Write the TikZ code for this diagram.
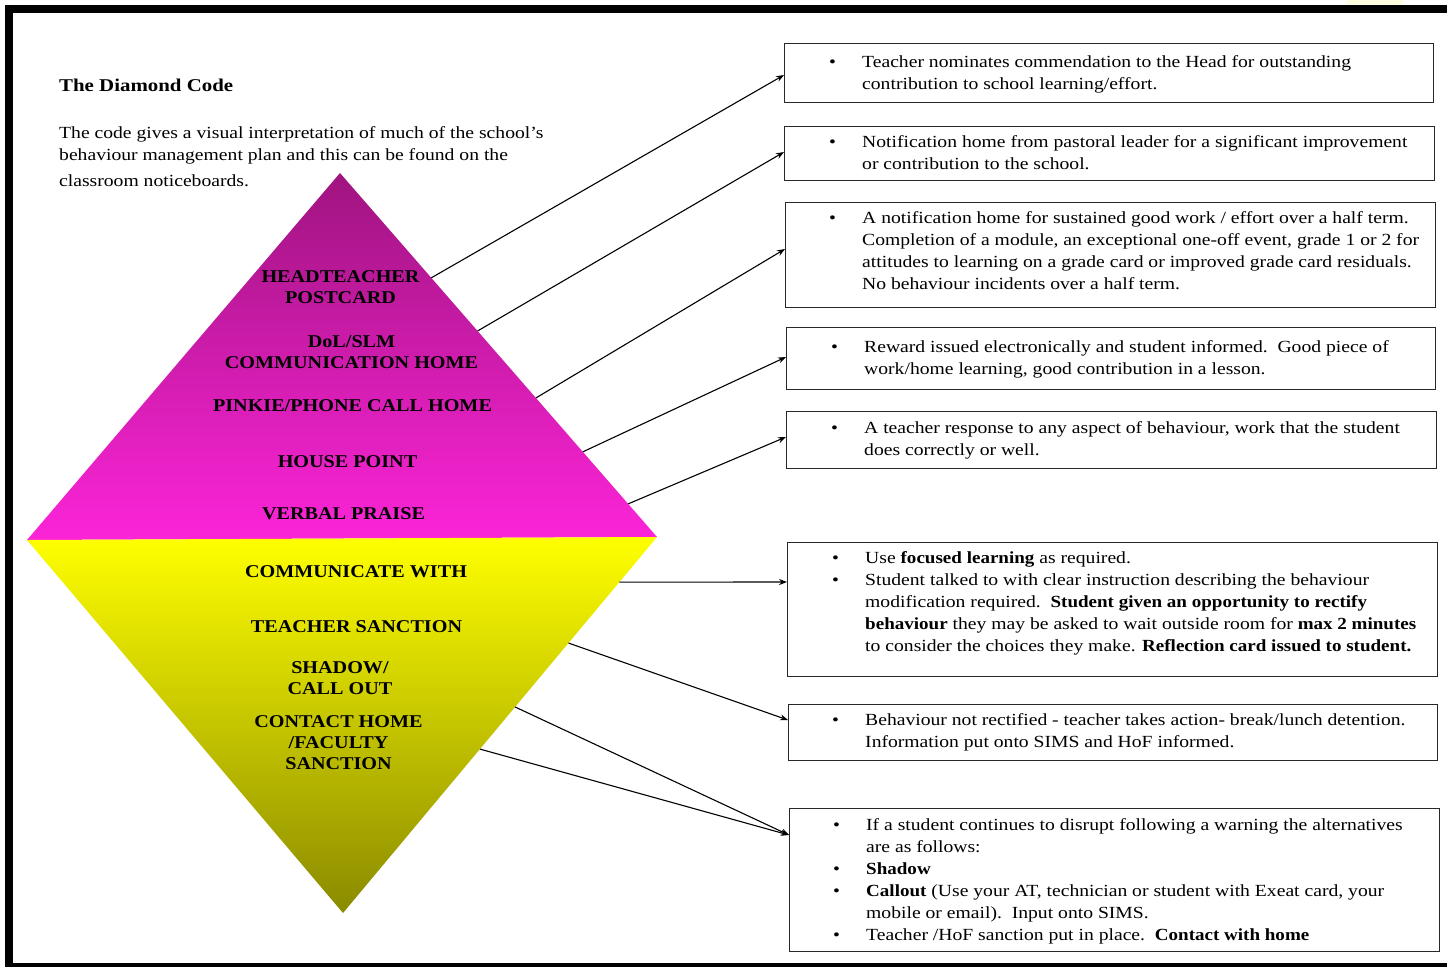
\documentclass[tikz,border=0pt]{standalone}
\usepackage{fontspec}
\setmainfont[FakeStretch=1.155,BoldFeatures={FakeStretch=1.12}]{Liberation Serif}
\newfontfamily\labfont[FakeStretch=1.12,BoldFeatures={FakeStretch=1.12}]{Liberation Serif}
\newfontfamily\titlefont[FakeStretch=1.16,BoldFeatures={FakeStretch=1.16}]{Liberation Serif}
\usetikzlibrary{arrows.meta,calc}
\definecolor{magtop}{RGB}{160,20,128}
\definecolor{magbot}{RGB}{252,36,216}
\definecolor{yeltop}{RGB}{255,255,0}
\definecolor{yelbot}{RGB}{138,138,0}
\definecolor{frameedge}{RGB}{40,40,40}
\newcommand\dlab[1]{\begin{tabular}[t]{@{}c@{}}#1\end{tabular}}
\newcommand\blist[1]{\begin{tabular}[t]{@{}p{33pt}@{}l@{}}#1\end{tabular}}
\begin{document}
\begin{tikzpicture}[x=1pt,y=-1pt,
 box/.style={draw=frameedge,line width=1.3pt,inner sep=0pt,anchor=north west},
 body/.style={anchor=base west,inner sep=0pt,font=\fontsize{17}{22}\selectfont},
 lab/.style={anchor=base,inner sep=0pt,font=\labfont\fontsize{18}{21}\selectfont\bfseries},
 conn/.style={line width=1.1pt,-{Stealth[length=8pt,width=6pt]}}]
\useasboundingbox (0,0) rectangle (1447,967);
\fill[white] (0,0) rectangle (1447,967);
% frame
\fill[yellow!12] (1347,0) rectangle (1403,5);
\fill[black] (5,5) rectangle (1447,13);
\fill[black] (5,5) rectangle (13,967);
\fill[black] (5,963) rectangle (1447,967);
% title + intro
\node[body,font=\titlefont\fontsize{18}{22}\selectfont\bfseries] (title) at (59,91) {The Diamond Code};
\node[body] (intro) at (59,138) {\begin{tabular}[t]{@{}l@{}}The code gives a visual interpretation of much of the school’s\\
behaviour management plan and this can be found on the\\[4pt]
classroom noticeboards.\end{tabular}};
% diamond
\coordinate (T) at (340,173);
\coordinate (L) at (27,540);
\coordinate (R) at (657,537);
\coordinate (B) at (343,913);
\shade[top color=magtop,bottom color=magbot] (T) -- (R) -- (L) -- cycle;
\shade[top color=yeltop,bottom color=yelbot] (L) -- (R) -- (B) -- cycle;
% labels
\node[lab] (l1) at (340.5,282) {\dlab{HEADTEACHER\\POSTCARD}};
\node[lab] (l2) at (351.5,347) {\dlab{DoL/SLM\\COMMUNICATION HOME}};
\node[lab] (l3) at (352.5,411) {\dlab{PINKIE/PHONE CALL HOME}};
\node[lab] (l4) at (347.5,467) {\dlab{HOUSE POINT}};
\node[lab] (l5) at (343.5,519) {\dlab{VERBAL PRAISE}};
\node[lab] (l6) at (356,577) {\dlab{COMMUNICATE WITH}};
\node[lab] (l7) at (356.5,632) {\dlab{TEACHER SANCTION}};
\node[lab] (l8) at (340,673) {\dlab{SHADOW/\\CALL OUT}};
\node[lab] (l9) at (338.5,727) {\dlab{CONTACT HOME\\/FACULTY\\SANCTION}};
% boxes
\node[box,minimum width=649pt,minimum height=59pt] (b1) at (784,43) {};
\node[box,minimum width=650pt,minimum height=54pt] (b2) at (784,126) {};
\node[box,minimum width=650pt,minimum height=105pt] (b3) at (785,202) {};
\node[box,minimum width=649pt,minimum height=62pt] (b4) at (786,327) {};
\node[box,minimum width=650pt,minimum height=57pt] (b5) at (786,411) {};
\node[box,minimum width=650pt,minimum height=134pt] (b6) at (787,542) {};
\node[box,minimum width=649pt,minimum height=56pt] (b7) at (788,704) {};
\node[box,minimum width=650pt,minimum height=143pt] (b8) at (789,808) {};
% box texts
\node[body] (t1) at (829,67) {\blist{\textbullet & Teacher nominates commendation to the Head for outstanding\\
 & contribution to school learning/effort.}};
\node[body] (t2) at (829,147) {\blist{\textbullet & Notification home from pastoral leader for a significant improvement\\
 & or contribution to the school.}};
\node[body] (t3) at (829,223) {\blist{\textbullet & A notification home for sustained good work / effort over a half term.\\
 & Completion of a module, an exceptional one-off event, grade 1 or 2 for\\
 & attitudes to learning on a grade card or improved grade card residuals.\\
 & No behaviour incidents over a half term.}};
\node[body] (t4) at (831,352) {\blist{\textbullet & Reward issued electronically and student informed.\ \ Good piece of\\
 & work/home learning, good contribution in a lesson.}};
\node[body] (t5) at (831,433) {\blist{\textbullet & A teacher response to any aspect of behaviour, work that the student\\
 & does correctly or well.}};
\node[body] (t6) at (832,563) {\blist{\textbullet & Use \textbf{focused learning} as required.\\
\textbullet & Student talked to with clear instruction describing the behaviour\\
 & modification required.\ \ \textbf{Student given an opportunity to rectify}\\
 & \textbf{behaviour} they may be asked to wait outside room for \textbf{max 2 minutes}\\
 & to consider the choices they make. \textbf{Reflection card issued to student.}}};
\node[body] (t7) at (832,725) {\blist{\textbullet & Behaviour not rectified - teacher takes action- break/lunch detention.\\
 & Information put onto SIMS and HoF informed.}};
\node[body] (t8) at (833,830) {\blist{\textbullet & If a student continues to disrupt following a warning the alternatives\\
 & are as follows:\\
\textbullet & \textbf{Shadow}\\
\textbullet & \textbf{Callout} (Use your AT, technician or student with Exeat card, your\\
 & mobile or email).\ \ Input onto SIMS.\\
\textbullet & Teacher /HoF sanction put in place.\ \ \textbf{Contact with home}}};
% connector starts on the diamond edge
\coordinate (s1) at ($(T)!0.288!(R)$);
\coordinate (s2) at ($(T)!0.434!(R)$);
\coordinate (s3) at ($(T)!0.618!(R)$);
\coordinate (s4) at ($(T)!0.766!(R)$);
\coordinate (s5) at ($(T)!0.909!(R)$);
\coordinate (s6) at ($(R)!0.12!(B)$);
\coordinate (s7) at ($(R)!0.282!(B)$);
\coordinate (s8) at ($(R)!0.452!(B)$);
\coordinate (s9) at ($(R)!0.564!(B)$);
% connectors
\draw[conn] (s1) -- ([yshift=-32pt]b1.north west);
\draw[conn] (s2) -- ([yshift=-26pt]b2.north west);
\draw[conn] (s3) -- ([yshift=-47pt]b3.north west);
\draw[conn] (s4) -- ([yshift=-30pt]b4.north west);
\draw[conn] (s5) -- ([yshift=-26pt]b5.north west);
\draw[conn] (s6) -- ([yshift=-40pt]b6.north west);
\draw[conn] (s7) -- ([yshift=-16pt]b7.north west);
\draw[conn] (s8) -- ([yshift=-27pt]b8.north west);
\draw[conn] (s9) -- ([yshift=-27pt]b8.north west);
\end{tikzpicture}
\end{document}
